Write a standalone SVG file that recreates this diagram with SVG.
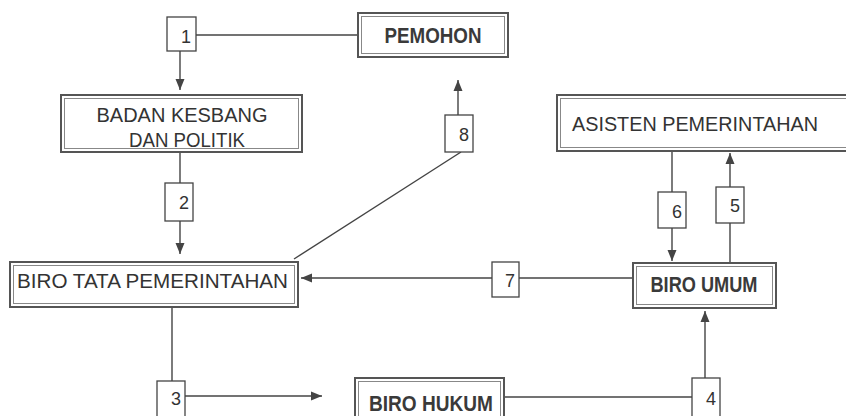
<svg xmlns="http://www.w3.org/2000/svg" width="846" height="416" viewBox="0 0 846 416">
<style>
.bg{fill:#ffffff}
.bo{fill:none;stroke:#555;stroke-width:2}
.bi{fill:none;stroke:#888;stroke-width:1}
.nb{fill:#fff;stroke:#444;stroke-width:1.3}
.ln{fill:none;stroke:#444;stroke-width:1.4}
.t{font-family:"Liberation Sans",Arial,sans-serif;fill:#333}
.tb{font-family:"Liberation Sans",Arial,sans-serif;font-weight:bold;fill:#3a3a3a}
.n{font-family:"Liberation Sans",Arial,sans-serif;font-size:18px;fill:#333;text-anchor:end}
</style>
<defs>
<marker id="ah" markerUnits="userSpaceOnUse" markerWidth="12" markerHeight="12" viewBox="0 0 12 12" refX="11" refY="6" orient="auto">
<path d="M0,1.5 L11,6 L0,10.5 Z" fill="#444"/>
</marker>
</defs>
<rect class="bg" x="0" y="0" width="846" height="416"/>

<g id="connectors">
<line class="ln" x1="358" y1="35" x2="196" y2="35"/>
<line class="ln" x1="180" y1="51" x2="180" y2="90" marker-end="url(#ah)"/>
<line class="ln" x1="180" y1="152" x2="180" y2="183"/>
<line class="ln" x1="180" y1="221" x2="180" y2="254" marker-end="url(#ah)"/>
<line class="ln" x1="172" y1="307" x2="172" y2="381"/>
<line class="ln" x1="185" y1="396" x2="322" y2="396" marker-end="url(#ah)"/>
<line class="ln" x1="504" y1="397" x2="692" y2="397"/>
<line class="ln" x1="705" y1="378" x2="705" y2="311" marker-end="url(#ah)"/>
<line class="ln" x1="730" y1="263" x2="730" y2="223"/>
<line class="ln" x1="730" y1="187" x2="730" y2="153" marker-end="url(#ah)"/>
<line class="ln" x1="672" y1="151" x2="672" y2="192"/>
<line class="ln" x1="672" y1="228" x2="672" y2="261" marker-end="url(#ah)"/>
<line class="ln" x1="633" y1="278" x2="519" y2="278"/>
<line class="ln" x1="492" y1="278" x2="301" y2="278" marker-end="url(#ah)"/>
<line class="ln" x1="294" y1="259" x2="461" y2="152"/>
<line class="ln" x1="458" y1="115" x2="458" y2="80" marker-end="url(#ah)"/>
</g>

<g id="pemohon">
<rect class="bo" x="358" y="13" width="150" height="44"/>
<rect class="bi" x="361.5" y="16.5" width="143" height="37"/>
<text class="tb" x="433" y="43" font-size="22" text-anchor="middle" textLength="97" lengthAdjust="spacingAndGlyphs">PEMOHON</text>
</g>

<g id="badan">
<rect class="bo" x="61" y="95" width="241" height="57"/>
<rect class="bi" x="64.5" y="98.5" width="234" height="50"/>
<text class="t" x="182" y="122" font-size="19.5" text-anchor="middle" textLength="171" lengthAdjust="spacingAndGlyphs">BADAN KESBANG</text>
<text class="t" x="187" y="147" font-size="19.5" text-anchor="middle" textLength="116" lengthAdjust="spacingAndGlyphs">DAN POLITIK</text>
</g>

<g id="biro-tata">
<rect class="bo" x="10" y="262" width="288" height="45"/>
<rect class="bi" x="13.5" y="265.5" width="281" height="38"/>
<text class="t" x="17" y="288" font-size="20" textLength="271" lengthAdjust="spacingAndGlyphs">BIRO TATA PEMERINTAHAN</text>
</g>

<g id="asisten">
<rect class="bo" x="557" y="95" width="295" height="56"/>
<rect class="bi" x="560.5" y="98.5" width="290" height="49"/>
<text class="t" x="572" y="131" font-size="19.5" textLength="246" lengthAdjust="spacingAndGlyphs">ASISTEN PEMERINTAHAN</text>
</g>

<g id="biro-umum">
<rect class="bo" x="633" y="263" width="143" height="45"/>
<rect class="bi" x="636.5" y="266.5" width="136" height="38"/>
<text class="tb" x="704" y="292" font-size="22" text-anchor="middle" textLength="107" lengthAdjust="spacingAndGlyphs">BIRO UMUM</text>
</g>

<g id="biro-hukum">
<rect class="bo" x="355" y="378" width="149" height="50"/>
<rect class="bi" x="358.5" y="381.5" width="142" height="43"/>
<text class="tb" x="431" y="411" font-size="22" text-anchor="middle" textLength="124" lengthAdjust="spacingAndGlyphs">BIRO HUKUM</text>
</g>

<g id="step-1"><rect class="nb" x="167" y="17" width="29" height="34"/><text class="n" x="191" y="43">1</text></g>
<g id="step-2"><rect class="nb" x="165" y="183" width="28" height="38"/><text class="n" x="189" y="209">2</text></g>
<g id="step-3"><rect class="nb" x="157" y="381" width="28" height="40"/><text class="n" x="181" y="405">3</text></g>
<g id="step-4"><rect class="nb" x="692" y="378" width="28" height="42"/><text class="n" x="716" y="405">4</text></g>
<g id="step-5"><rect class="nb" x="716" y="187" width="28" height="36"/><text class="n" x="740" y="212">5</text></g>
<g id="step-6"><rect class="nb" x="658" y="192" width="28" height="36"/><text class="n" x="682" y="218">6</text></g>
<g id="step-7"><rect class="nb" x="492" y="262" width="27" height="35"/><text class="n" x="515" y="287">7</text></g>
<g id="step-8"><rect class="nb" x="445" y="115" width="28" height="37"/><text class="n" x="469" y="141">8</text></g>
</svg>
